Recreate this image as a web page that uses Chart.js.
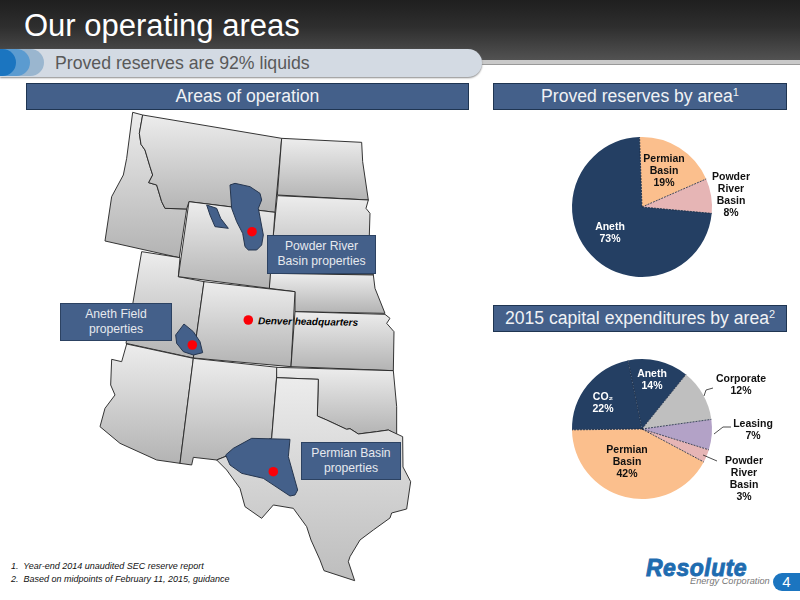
<!DOCTYPE html>
<html>
<head>
<meta charset="utf-8">
<title>Our operating areas</title>
<script src="https://cdn.jsdelivr.net/npm/chart.js@4/dist/chart.umd.min.js"></script>
<style>
  html, body { margin: 0; padding: 0; background: #fff; }
  body { width: 800px; height: 600px; position: relative; overflow: hidden; font-family: "Liberation Sans", Arial, sans-serif; }
  .abs { position: absolute; }
  .head { background: #44608a; border: 1px solid #1f3552; box-sizing: border-box; color: #f0f2f5; font-size: 17.6px; text-align: center; }
  .head sup { font-size: 11px; line-height: 0; vertical-align: 6px; }
  .box { background: #44608a; border: 1px solid #2c4262; box-sizing: border-box; color: #e6e9ee; font-size: 12.2px; line-height: 15px; text-align: center; }
</style>
</head>
<body>

<!-- header band -->
<div class="abs" style="left:0;top:0;width:800px;height:60px;background:linear-gradient(#1f1f1f,#2e2e2e 45%,#525252)"></div>
<div class="abs" style="left:0;top:60px;width:800px;height:5px;background:#c9c9c9;border-bottom:1px solid #999;box-sizing:border-box"></div>
<div class="abs" style="left:24px;top:6px;color:#fff;font-size:31px;line-height:40px">Our operating areas</div>

<!-- subtitle pill -->
<div class="abs" style="left:0;top:49px;width:482px;height:28px;background:#d3dae3;border-radius:0 14px 14px 0;box-shadow:0 1px 2px #888"></div>
<div class="abs" style="left:-14px;top:49px;width:58px;height:27px;background:#9ab6cf;border-radius:14px"></div>
<div class="abs" style="left:-28px;top:49px;width:58px;height:27px;background:#5b9bd0;border-radius:14px"></div>
<div class="abs" style="left:-42px;top:49px;width:58px;height:27px;background:#1b75c0;border-radius:14px"></div>
<div class="abs" style="left:55px;top:52px;color:#595959;font-size:17.7px;line-height:22px">Proved reserves are 92% liquids</div>

<!-- section heads -->
<div class="abs head" style="left:26px;top:83px;width:443px;height:27px;line-height:25px">Areas of operation</div>
<div class="abs head" style="left:493px;top:83px;width:294px;height:27px;line-height:25px">Proved reserves by area<sup>1</sup></div>
<div class="abs head" style="left:493px;top:305px;width:294px;height:27px;line-height:25px">2015 capital expenditures by area<sup>2</sup></div>

<!-- map -->
<svg class="abs" style="left:0;top:0" width="800" height="600">
  <defs>
    <linearGradient id="st" x1="0" y1="0" x2="0" y2="1"><stop offset="0" stop-color="#ededed"/><stop offset="1" stop-color="#b3b3b3"/></linearGradient>
    <linearGradient id="tx" x1="0" y1="0" x2="0" y2="1"><stop offset="0" stop-color="#ececec"/><stop offset="1" stop-color="#bdbdbd"/></linearGradient>
  </defs>
  <g fill="url(#st)" stroke="#2a2a2a" stroke-width="0.95" stroke-linejoin="round">
    <g transform="translate(60,105) scale(.33333)">
      <polygon vector-effect="non-scaling-stroke" points="218,22 248,30 238,85 243,118 255,135 270,185 278,210 266,233 290,240 305,290 315,310 380,312 358,458 135,408 155,275 190,210 200,160"/>
      <polygon vector-effect="non-scaling-stroke" points="248,30 665,100 645,322 387,290 380,312 315,310 305,290 290,240 266,233 278,210 270,185 255,135 243,118 238,85"/>
      <polygon vector-effect="non-scaling-stroke" points="665,100 905,112 908,170 925,285 652,270"/>
      <polygon vector-effect="non-scaling-stroke" points="652,272 925,285 918,310 930,325 928,390 940,510 630,505 640,390"/>
      <polygon vector-effect="non-scaling-stroke" points="630,505 940,510 945,550 975,625 705,620 705,560 628,550"/>
      <polygon vector-effect="non-scaling-stroke" points="245,440 360,458 355,515 432,530 400,759 198,715"/>
      <polygon vector-effect="non-scaling-stroke" points="387,290 645,322 628,550 355,515"/>
      <polygon vector-effect="non-scaling-stroke" points="432,530 705,560 693,785 400,759"/>
      <polygon vector-effect="non-scaling-stroke" points="705,620 975,628 990,640 980,655 1002,680 1000,797 693,785"/>
    </g>
    <g transform="translate(60,330) scale(.33333)">
      <polygon vector-effect="non-scaling-stroke" points="200,42 400,85 360,400 290,390 180,340 120,290 135,235 165,195 152,165 155,88 185,95"/>
      <polygon vector-effect="non-scaling-stroke" points="400,85 652,112 635,325 495,380 470,390 400,382 395,405 360,400"/>
      <polygon vector-effect="non-scaling-stroke" points="650,112 1000,122 1010,230 1010,315 985,300 950,305 895,312 870,296 860,298 800,270 772,258 775,148 650,143"/>
      <polygon vector-effect="non-scaling-stroke" fill="url(#tx)" points="650,143 775,148 772,258 800,270 860,298 870,296 895,312 950,305 985,300 1028,320 1029,411 1052,455 1040,537 995,549 990,564 940,600 900,630 870,680 865,695 884,752 792,722 780,690 753,630 740,590 700,535 640,525 605,565 555,530 540,475 500,420 470,390 495,380 635,325"/>
    </g>
  </g>
  <g fill="#44608a" stroke="#26364f" stroke-width="1" stroke-linejoin="round">
    <g transform="translate(60,105) scale(.33333)">
      <polygon vector-effect="non-scaling-stroke" points="510,240 525,235 570,245 600,265 605,285 595,310 610,390 605,420 590,435 565,435 555,425 548,385 530,350 515,310"/>
      <polygon vector-effect="non-scaling-stroke" points="440,300 470,310 482,340 505,370 465,365 450,330"/>
    </g>
    <g transform="translate(60,330) scale(.33333)">
      <polygon vector-effect="non-scaling-stroke" points="372,-18 400,5 420,35 428,68 400,75 370,65 350,40 347,15"/>
      <polygon vector-effect="non-scaling-stroke" points="575,325 690,328 685,380 713,480 705,495 690,498 610,445 545,430 510,405 497,375 520,355"/>
    </g>
  </g>
  <g fill="#fb0007">
    <circle cx="252" cy="231.7" r="4.8"/>
    <circle cx="248.3" cy="320" r="4.8"/>
    <circle cx="192.3" cy="345" r="4.8"/>
    <circle cx="273.3" cy="471.7" r="4.8"/>
  </g>
</svg>

<div class="abs" style="left:258px;top:315px;font:italic bold 10px/14px 'Liberation Sans',Arial,sans-serif;color:#000;transform:rotate(1deg);white-space:nowrap">Denver headquarters</div>
<div class="abs box" style="left:267px;top:235px;width:109px;height:39px;padding-top:3px">Powder River<br>Basin properties</div>
<div class="abs box" style="left:60px;top:303px;width:112px;height:38px;padding-top:3px">Aneth Field<br>properties</div>
<div class="abs box" style="left:301px;top:442px;width:100px;height:38px;padding-top:3px">Permian Basin<br>properties</div>

<!-- pies -->
<canvas id="reservesPie" class="abs" style="left:502px;top:117px" width="280" height="180"></canvas>
<canvas id="capexPie" class="abs" style="left:502px;top:339px" width="280" height="180"></canvas>

<!-- footnotes and logo -->
<div class="abs" style="left:11px;top:560px;font:italic 9px/13px 'Liberation Sans',Arial,sans-serif;color:#111;white-space:pre">1.  Year-end 2014 unaudited SEC reserve report
2.  Based on midpoints of February 11, 2015, guidance</div>
<div class="abs" style="left:646px;top:555px;font:italic bold 23px/26px 'Liberation Sans',Arial,sans-serif;color:#1f6cb0;-webkit-text-stroke:.9px #1f6cb0;letter-spacing:.5px">Resolute</div>
<div class="abs" style="left:690px;top:575px;font:italic 9.2px/12px 'Liberation Sans',Arial,sans-serif;color:#777;white-space:nowrap">Energy Corporation</div>
<div class="abs" style="left:773px;top:573px;width:27px;height:18px;background:#1b75c0;border-radius:9px 0 0 9px;color:#fff;font-size:15px;line-height:18px;text-align:center">4</div>

<script>
// Proved reserves by area
const reservesLabels = ['Permian Basin', 'Powder River Basin', 'Aneth'];
const reservesValues = [19, 8, 73];

// 2015 capital expenditures by area
const capexLabels = ['Aneth', 'Corporate', 'Leasing', 'Powder River Basin', 'Permian Basin', 'CO₂'];
const capexValues = [14, 12, 7, 3, 42, 22];

const navy = '#243f63';
const peach = '#fbbf8d';
const pink = '#e6b5b5';

// Text lines per slice: name broken the way the slide breaks it
function labelLines(name, value) {
  var lines = name === 'Powder River Basin' ? ['Powder', 'River', 'Basin'] :
              name === 'Permian Basin' ? ['Permian', 'Basin'] : [name];
  return lines.concat(value + '%');
}

// Draws slice dividers, leader lines and slice labels on top of the pie
const pieDecor = {
  id: 'pieDecor',
  afterDatasetsDraw: function(chart, args, opts) {
    var ctx = chart.ctx;
    var meta = chart.getDatasetMeta(0);
    var labels = chart.data.labels;
    var values = chart.data.datasets[0].data;
    ctx.save();

    meta.data.forEach(function(arc) {
      ctx.beginPath();
      ctx.strokeStyle = '#16263c';
      ctx.lineWidth = 0.8;
      ctx.setLineDash([2, 1]);
      ctx.moveTo(arc.x, arc.y);
      ctx.lineTo(arc.x + Math.cos(arc.startAngle) * arc.outerRadius, arc.y + Math.sin(arc.startAngle) * arc.outerRadius);
      ctx.stroke();
    });
    ctx.setLineDash([]);

    var cx = meta.data[0].x, cy = meta.data[0].y;
    (opts.leaders || []).forEach(function(pts) {
      ctx.beginPath();
      ctx.strokeStyle = '#222';
      ctx.lineWidth = 0.8;
      pts.forEach(function(p, i) {
        if (i == 0) ctx.moveTo(cx + p[0], cy + p[1]);
        else ctx.lineTo(cx + p[0], cy + p[1]);
      });
      ctx.stroke();
    });

    ctx.font = 'bold 10.5px "Liberation Sans", Arial, sans-serif';
    ctx.textAlign = 'center';
    ctx.textBaseline = 'middle';
    labels.forEach(function(name, i) {
      var lines = labelLines(name, values[i]);
      var off = opts.offsets[i];
      ctx.fillStyle = opts.colors[i];
      lines.forEach(function(line, n) {
        ctx.fillText(line, cx + off[0], cy + off[1] + (n - (lines.length - 1) / 2) * 12);
      });
    });
    ctx.restore();
  }
};

function makePie(id, labels, values, colors, rotation, decor) {
  return new Chart(document.getElementById(id), {
    type: 'pie',
    data: {
      labels: labels,
      datasets: [{ data: values, backgroundColor: colors, borderWidth: 0 }]
    },
    options: {
      responsive: false,
      animation: false,
      rotation: rotation,
      layout: { padding: 20 },
      plugins: {
        legend: { display: false },
        tooltip: { enabled: false },
        pieDecor: decor
      }
    },
    plugins: [pieDecor]
  });
}

makePie('reservesPie', reservesLabels, reservesValues, [peach, pink, navy], -2, {
  offsets: [[22, -36], [89, -12], [-32, 26]],
  colors: ['#111', '#111', '#fff']
});

makePie('capexPie', capexLabels, capexValues, [navy, '#bfbfbf', '#b3a2c7', pink, peach, navy], -11.5, {
  offsets: [[10, -49], [99, -44], [111, 1], [102, 50], [-15, 33], [-39, -26]],
  colors: ['#fff', '#111', '#111', '#111', '#111', '#fff'],
  leaders: [
    [[71, -41], [64, -39], [62, -33]],
    [[89, -2], [81, -2], [72, 5]],
    [[61, 26], [75, 32]]
  ]
});
</script>
</body>
</html>
